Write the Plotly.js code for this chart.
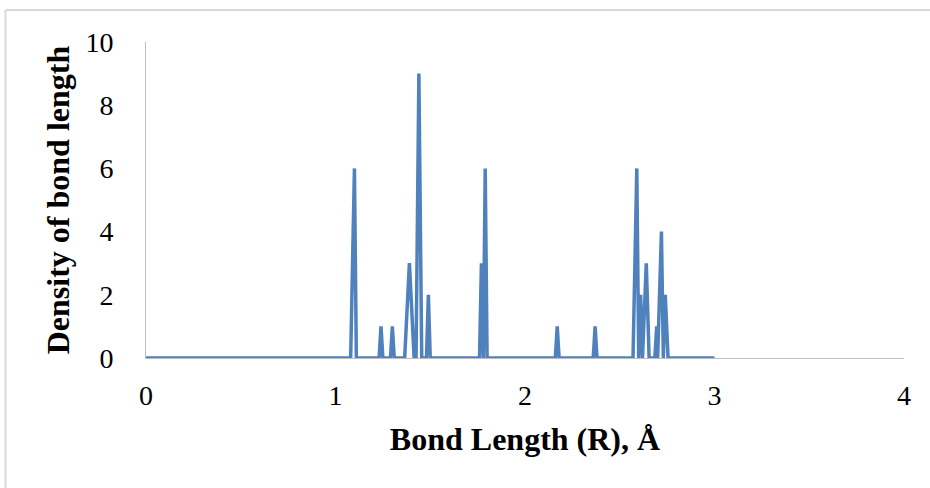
<!DOCTYPE html>
<html>
<head>
<meta charset="utf-8">
<script src="https://cdn.plot.ly/plotly-3.0.1.min.js"></script>
<style>
html,body{margin:0;padding:0;background:#fff;}
#chart{width:930px;height:488px;}
</style>
</head>
<body>
<div id="chart"></div>
<script>
// Bond length (Å) and density values
const bondLength = [0, 1.08, 1.10, 1.11, 1.23, 1.24, 1.25, 1.29, 1.30, 1.31,
  1.365, 1.39, 1.415, 1.425, 1.44, 1.455, 1.48, 1.49, 1.50,
  1.76, 1.77, 1.78, 1.79, 1.80,
  2.16, 2.17, 2.18, 2.36, 2.37, 2.38,
  2.57, 2.59, 2.60, 2.61, 2.62, 2.64, 2.655, 2.685, 2.695, 2.70, 2.72, 2.73, 2.74, 2.755, 3.0];
const density = [0, 0, 6, 0, 0, 1, 0, 0, 1, 0,
  0, 3, 0, 0, 9, 0, 0, 2, 0,
  0, 3, 0, 6, 0,
  0, 1, 0, 0, 1, 0,
  0, 6, 0, 2, 0, 3, 0, 0, 1, 0, 4, 0, 2, 0, 0];
const xTicks = [0, 1, 2, 3, 4];
const yTicks = [0, 2, 4, 6, 8, 10];

const trace = {
  x: bondLength, y: density, type: 'scatter', mode: 'lines',
  line: {color: '#4F81BD', width: 3.5}, hoverinfo: 'x+y'
};

const font = {family: '"Liberation Serif", "Times New Roman", serif', color: '#000'};

const layout = {
  width: 930, height: 488,
  margin: {l: 146, r: 26, t: 42, b: 130},
  paper_bgcolor: '#fff', plot_bgcolor: '#fff',
  showlegend: false,
  font: Object.assign({size: 28}, font),
  xaxis: {
    range: [0, 4], tickvals: xTicks, ticktext: xTicks.map(String),
    showgrid: false, zeroline: false, showline: true, linecolor: '#BFBFBF', linewidth: 1,
    ticks: '', ticklabelstandoff: 12,
    tickfont: Object.assign({size: 28}, font),
    title: {text: '<b>Bond Length (R), Å</b>', font: Object.assign({size: 32}, font), standoff: 18}
  },
  yaxis: {
    range: [0, 10], tickvals: yTicks, ticktext: yTicks.map(String),
    showgrid: false, zeroline: false, showline: true, linecolor: '#BFBFBF', linewidth: 1,
    ticks: '', ticklabelstandoff: 26,
    tickfont: Object.assign({size: 28}, font),
    title: {text: '<b>Density of bond length</b>', font: Object.assign({size: 32}, font), standoff: 6}
  },
  shapes: [
    {type: 'line', xref: 'paper', yref: 'paper', x0: -0.1854, x1: 1.1, y0: 1.1013, y1: 1.1013,
     line: {color: '#D9D9D9', width: 2}},
    {type: 'line', xref: 'paper', yref: 'paper', x0: -0.1854, x1: -0.1854, y0: -0.45, y1: 1.1013,
     line: {color: '#D9D9D9', width: 2}}
  ]
};

Plotly.newPlot('chart', [trace], layout, {displayModeBar: false, staticPlot: true});
</script>
</body>
</html>
